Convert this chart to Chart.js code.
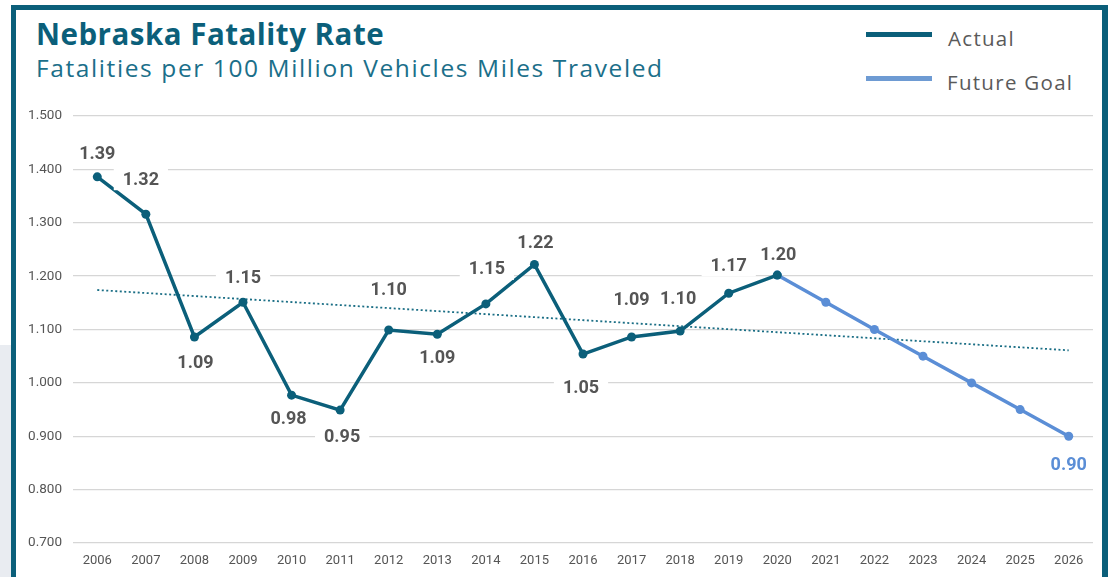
<!DOCTYPE html>
<html>
<head>
<meta charset="utf-8">
<script src="https://cdn.jsdelivr.net/npm/chart.js@4"></script>
<style>
  html, body { margin: 0; padding: 0; background: #fff; }
  #wrap { position: relative; width: 1109px; height: 577px; overflow: hidden; background: #fff; }
  #gray { position: absolute; left: 0; top: 345px; width: 11px; height: 232px; background: #E9ECF1; }
  #frame { position: absolute; left: 11px; top: 5px; width: 1086px; height: 600px; border: 5px solid #0B5F7A; border-right-width: 6px; }
  #title { position: absolute; left: 36px; top: 19px; font-family: "Open Sans", sans-serif; font-weight: 700; font-size: 29.5px; letter-spacing: 0.5px; color: #0B5F7A; white-space: nowrap; line-height: 1; }
  #subtitle { position: absolute; left: 36px; top: 56px; font-family: "Open Sans", sans-serif; font-weight: 400; font-size: 24.5px; letter-spacing: 1.6px; color: #1B6F8A; white-space: nowrap; line-height: 1; }
  .leg { position: absolute; font-family: "Open Sans", sans-serif; font-size: 20.5px; letter-spacing: 1.3px; color: #5A5A5A; white-space: nowrap; line-height: 1; }
  .legline { position: absolute; height: 5px; width: 66px; }
  canvas { position: absolute; left: 0; top: 0; }
</style>
</head>
<body>
<div id="wrap">
  <div id="gray"></div>
  <div id="frame"></div>
  <div id="title">Nebraska Fatality Rate</div>
  <div id="subtitle">Fatalities per 100 Million Vehicles Miles Traveled</div>
  <div id="legend"></div>
  <canvas id="c" width="1109" height="577"></canvas>
</div>
<script>
// ---- data ----
const years = ['2006','2007','2008','2009','2010','2011','2012','2013','2014','2015','2016','2017','2018','2019','2020','2021','2022','2023','2024','2025','2026'];
const actual = [1.386, 1.316, 1.086, 1.151, 0.977, 0.949, 1.099, 1.091, 1.148, 1.222, 1.054, 1.086, 1.097, 1.168, 1.202, null, null, null, null, null, null];
const futureGoal = [null, null, null, null, null, null, null, null, null, null, null, null, null, null, 1.202, 1.151, 1.100, 1.050, 1.000, 0.950, 0.900];
const trend = [1.174, null, null, null, null, null, null, null, null, null, null, null, null, null, null, null, null, null, null, null, 1.061];
const yTicks = [0.7, 0.8, 0.9, 1.0, 1.1, 1.2, 1.3, 1.4, 1.5];
const seriesNames = ['Actual', 'Future Goal'];

// ---- styles ----
const TEAL = '#0B5F7A';
const BLUE = '#5B8ED6';

// label placement (dx, dy in px relative to point), by dataset index & point index
const labelPlacement = {
  0: {0:[0,-23],1:[-5,-35],2:[1,26],3:[0,-25],4:[-3,23],5:[2,26],6:[0,-41],7:[0,23],8:[1,-35],9:[1,-22],10:[-2,33],11:[0,-37],12:[-2,-33],13:[0,-28],14:[1,-21]},
  1: {20:[0,28]}
};

const labelPlugin = {
  id: 'pointLabels',
  afterDatasetsDraw(chart) {
    const ctx = chart.ctx;
    ctx.save();
    ctx.font = 'bold 18px Roboto, sans-serif';
    ctx.textAlign = 'center';
    ctx.textBaseline = 'middle';
    Object.keys(labelPlacement).forEach(di => {
      const meta = chart.getDatasetMeta(+di);
      const ds = chart.data.datasets[+di];
      Object.keys(labelPlacement[di]).forEach(pi => {
        const el = meta.data[+pi];
        const v = ds.data[+pi];
        if (!el || v == null) return;
        const [dx, dy] = labelPlacement[di][pi];
        const txt = v.toFixed(2);
        const x = el.x + dx, y = el.y + dy;
        const w = ctx.measureText(txt).width;
        ctx.fillStyle = '#fff';
        ctx.fillRect(x - w/2 - 9, y - 11, w + 18, 22);
        ctx.fillStyle = +di === 1 ? BLUE : '#555555';
        ctx.fillText(txt, x, y + 1);
      });
    });
    ctx.restore();
  }
};

// legend (HTML, from dataset names/colours)
const legendColors = [TEAL, '#6E9BD3'];
const legendEl = document.getElementById('legend');
seriesNames.forEach((n, i) => {
  const top = [32, 76][i];
  const line = document.createElement('div');
  line.className = 'legline';
  line.style.left = '866px'; line.style.top = top + 'px'; line.style.background = legendColors[i];
  legendEl.appendChild(line);
  const t = document.createElement('div');
  t.className = 'leg'; t.textContent = n;
  t.style.left = (i === 0 ? 948 : 947) + 'px'; t.style.top = (top - 4) + 'px';
  legendEl.appendChild(t);
});

new Chart(document.getElementById('c'), {
  type: 'line',
  data: {
    labels: years,
    datasets: [
      { label: seriesNames[0], data: actual, borderColor: TEAL, backgroundColor: TEAL, borderWidth: 3.5, pointRadius: 4.5, pointBorderWidth: 0, tension: 0 },
      { label: seriesNames[1], data: futureGoal, borderColor: BLUE, backgroundColor: BLUE, borderWidth: 3.5, pointRadius: 4.5, pointBorderWidth: 0, tension: 0 },
      { label: 'Trend', data: trend, borderColor: '#1A6E85', borderWidth: 1.8, borderDash: [2, 2.5], pointRadius: 0, spanGaps: true, tension: 0 }
    ]
  },
  options: {
    responsive: false,
    animation: false,
    layout: { padding: { top: 116, right: 16, left: 0, bottom: 0 } },
    plugins: { legend: { display: false }, tooltip: { enabled: false } },
    scales: {
      x: {
        offset: true,
        grid: { display: false, drawTicks: false },
        border: { display: false },
        ticks: { color: '#555', font: { family: 'Roboto', size: 13 }, padding: 10, maxRotation: 0, autoSkip: false },
        afterFit(s) { s.height = 34; }
      },
      y: {
        min: 0.7, max: 1.5,
        afterBuildTicks(s) { s.ticks = yTicks.map(v => ({ value: v })); },
        grid: { color: '#D6D6D6', lineWidth: 1.3, drawTicks: false },
        border: { display: false },
        ticks: { color: '#555', font: { family: 'Roboto', size: 13.5 }, padding: 11, callback: v => v.toFixed(3) },
        afterFit(s) { s.width = 73; }
      }
    }
  },
  plugins: [labelPlugin]
});
</script>
</body>
</html>
